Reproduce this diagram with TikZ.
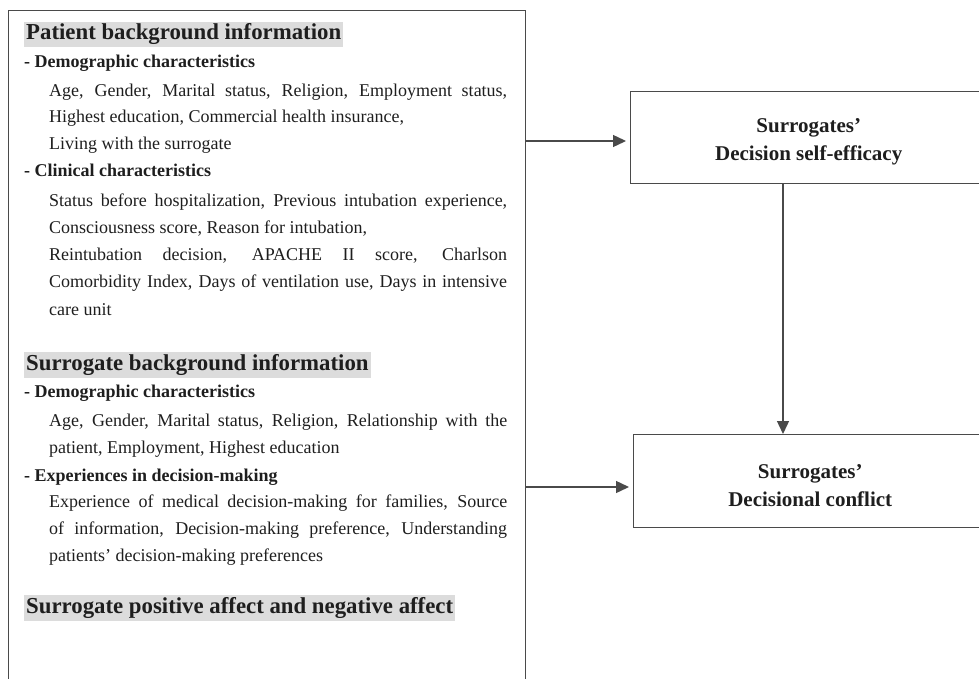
\documentclass[tikz,border=0pt]{standalone}
\usepackage{fontspec}
\setmainfont{Liberation Serif}
\usetikzlibrary{arrows.meta}
\definecolor{linegray}{HTML}{4A4A4A}
\definecolor{headgray}{HTML}{DCDCDC}
\definecolor{txt}{HTML}{1E1E1E}
\newcommand\jline[1]{\makebox[458pt][s]{#1}}
\tikzset{
 frame/.style={draw=linegray, line width=1.4pt},
 head/.style={fill=headgray, text=txt, font=\fontsize{22.8}{26}\selectfont\bfseries, inner xsep=2pt, inner ysep=1.5pt, text height=16.5pt, text depth=6pt, anchor=base west},
 sub/.style={text=txt, font=\fontsize{18}{27}\selectfont\bfseries, inner sep=0pt, anchor=base west},
 body/.style={text=txt, font=\fontsize{18}{27}\selectfont, inner sep=0pt, anchor=base west},
 outbox/.style={draw=linegray, line width=1.4pt, anchor=north west},
 outtext/.style={font=\fontsize{21}{28}\selectfont\bfseries, align=center, text=txt, inner sep=0pt},
 arr/.style={draw=linegray, line width=1.4pt, -{Triangle[length=13pt,width=12pt]}}
}
\begin{document}
\begin{tikzpicture}[x=1pt,y=-1pt]
\useasboundingbox (0,0) rectangle (979,679);
% left frame
\node[frame, anchor=north west, minimum width=517pt, minimum height=700pt, inner sep=0pt] (L) at (8,10) {};
% patient
\node[head] (h1) at (24,40) {Patient background information};
\node[sub] (s1) at (24,68) {- Demographic characteristics};
\node[body] (b1) at (49,97) {\jline{Age, Gender, Marital status, Religion, Employment status,}};
\node[body] (b2) at (49,123) {Highest education, Commercial health insurance,};
\node[body] (b3) at (49,150) {Living with the surrogate};
\node[sub] (s2) at (24,177) {- Clinical characteristics};
\node[body] (b4) at (49,206) {\jline{Status before hospitalization, Previous intubation experience,}};
\node[body] (b5) at (49,233) {Consciousness score, Reason for intubation,};
\node[body] (b6) at (49,260) {\jline{Reintubation decision, APACHE II score, Charlson}};
\node[body] (b7) at (49,287) {\jline{Comorbidity Index, Days of ventilation use, Days in intensive}};
\node[body] (b8) at (49,315) {care unit};
% surrogate
\node[head] (h2) at (24,370) {Surrogate background information};
\node[sub] (s3) at (24,397) {- Demographic characteristics};
\node[body] (c1) at (49,426) {\jline{Age, Gender, Marital status, Religion, Relationship with the}};
\node[body] (c2) at (49,453) {patient, Employment, Highest education};
\node[sub] (s4) at (24,481) {- Experiences in decision-making};
\node[body] (c3) at (49,507) {\jline{Experience of medical decision-making for families, Source}};
\node[body] (c4) at (49,534) {\jline{of information, Decision-making preference, Understanding}};
\node[body] (c5) at (49,561) {patients’ decision-making preferences};
\node[head] (h3) at (24,613) {Surrogate positive affect and negative affect};
% outcome boxes
\node[outbox, minimum width=356pt, minimum height=92pt] (S1) at (630,91) {};
\node[outtext] (T1) at ([yshift=-4pt]S1.center) {Surrogates’\\Decision self-efficacy};
\node[outbox, minimum width=353pt, minimum height=93pt] (S2) at (633,434) {};
\node[outtext] (T2) at ([yshift=-4pt]S2.center) {Surrogates’\\Decisional conflict};
% connectors
\coordinate (y1) at (0,141);
\coordinate (y2) at (0,487);
\coordinate (x1) at (783,0);
\draw[arr, shorten >=4pt] (L.east |- y1) -- (S1.west |- y1);
\draw[arr, shorten >=4pt] (L.east |- y2) -- (S2.west |- y2);
\draw[arr] (S1.south -| x1) -- (S2.north -| x1);
\end{tikzpicture}
\end{document}
